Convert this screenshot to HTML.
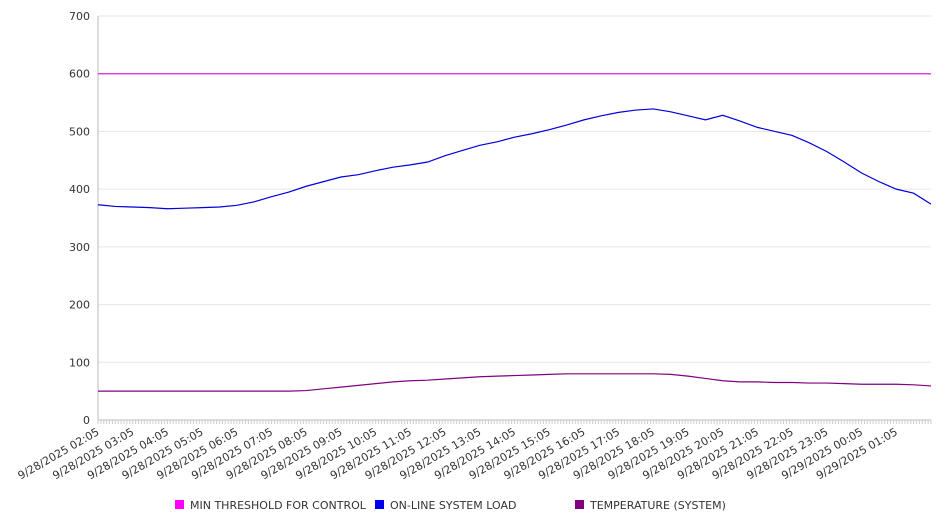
<!DOCTYPE html>
<html><head><meta charset="utf-8"><style>
body{margin:0;background:#fff;font-family:"DejaVu Sans","Liberation Sans",sans-serif;}
svg text{font-family:"DejaVu Sans","Liberation Sans",sans-serif;fill:#333;}
</style></head><body>
<svg id="chart" width="946" height="526" xmlns="http://www.w3.org/2000/svg"></svg>
<script>
const hourLabels=["9/28/2025 02:05","9/28/2025 03:05","9/28/2025 04:05","9/28/2025 05:05","9/28/2025 06:05","9/28/2025 07:05","9/28/2025 08:05","9/28/2025 09:05","9/28/2025 10:05","9/28/2025 11:05","9/28/2025 12:05","9/28/2025 13:05","9/28/2025 14:05","9/28/2025 15:05","9/28/2025 16:05","9/28/2025 17:05","9/28/2025 18:05","9/28/2025 19:05","9/28/2025 20:05","9/28/2025 21:05","9/28/2025 22:05","9/28/2025 23:05","9/29/2025 00:05","9/29/2025 01:05"];
const yTicks=[0,100,200,300,400,500,600,700];
// values every 30 minutes, 02:05 .. 02:05 next day (49 points)
const loadValues=[373,370,369,368,366,367,368,369,372,378,387,395,405,413,421,425,432,438,442,447,458,467,476,482,490,496,503,511,520,527,533,537,539,534,527,520,528,518,507,500,493,480,465,447,428,413,400,393,374];
const tempValues=[50,50,50,50,50,50,50,50,50,50,50,50,51,54,57,60,63,66,68,69,71,73,75,76,77,78,79,80,80,80,80,80,80,79,76,72,68,66,66,65,65,64,64,63,62,62,62,61,59];
const thresholdValue=600;

const svg=document.getElementById('chart');
const NS='http://www.w3.org/2000/svg';
const X0=98,X1=931,Y0=420,Y1=16,YMAX=700,N=loadValues.length;
const xPos=i=>X0+(X1-X0)*i/(N-1);
const yPos=v=>Y0-(Y0-Y1)*v/YMAX;
function mk(tag,attrs,parent){const e=document.createElementNS(NS,tag);for(const k in attrs)e.setAttribute(k,attrs[k]);(parent||svg).appendChild(e);return e;}

yTicks.forEach(v=>{
  const g=mk('line',{x1:X0,x2:X1,y1:yPos(v),y2:yPos(v),stroke:v===0?'#bbb':'#e6e6e6','stroke-width':1});
  
  
  const t=mk('text',{x:90,y:yPos(v)+4,'text-anchor':'end','font-size':11});
  t.textContent=v;
  
  
});
const ax=mk('line',{x1:X0,x2:X0,y1:Y1,y2:Y0,stroke:'#bbb'});


for(let k=0;k<=288;k++){
  const x=X0+(X1-X0)*k/288;
  const tk=mk('line',{x1:x,x2:x,y1:Y0,y2:Y0+4,stroke:'#ccc'});
  
  
}
hourLabels.forEach((l,i)=>{
  const x=X0+(X1-X0)*i/24;
  const t=mk('text',{x:x+2,y:Y0+14,'text-anchor':'end','font-size':11,transform:`rotate(-30 ${x+2} ${Y0+14})`});
  t.textContent=l;
  
  
});
const th=mk('line',{x1:X0,x2:X1,y1:yPos(thresholdValue),y2:yPos(thresholdValue),stroke:'#e020e0','stroke-width':1.2});


function series(vals,color,name){
  const p=mk('polyline',{points:vals.map((v,i)=>xPos(i)+','+yPos(v)).join(' '),fill:'none',stroke:color,'stroke-width':1.2});
  
  
}
series(loadValues,'#0000dd','online-system-load-line');
series(tempValues,'#800080','temperature-line');

[["MIN THRESHOLD FOR CONTROL","#ff00ff",175,'legend-min-threshold'],["ON-LINE SYSTEM LOAD","#0000ee",375,'legend-system-load'],["TEMPERATURE (SYSTEM)","#800080",575,'legend-temperature']].forEach(([txt,c,x,n])=>{
  const g=mk('g',{});
  
  
  mk('rect',{x:x,y:500,width:9,height:9,fill:c},g);
  const t=mk('text',{x:x+15,y:509,'font-size':11},g);
  t.textContent=txt;
});
</script>
</body></html>
